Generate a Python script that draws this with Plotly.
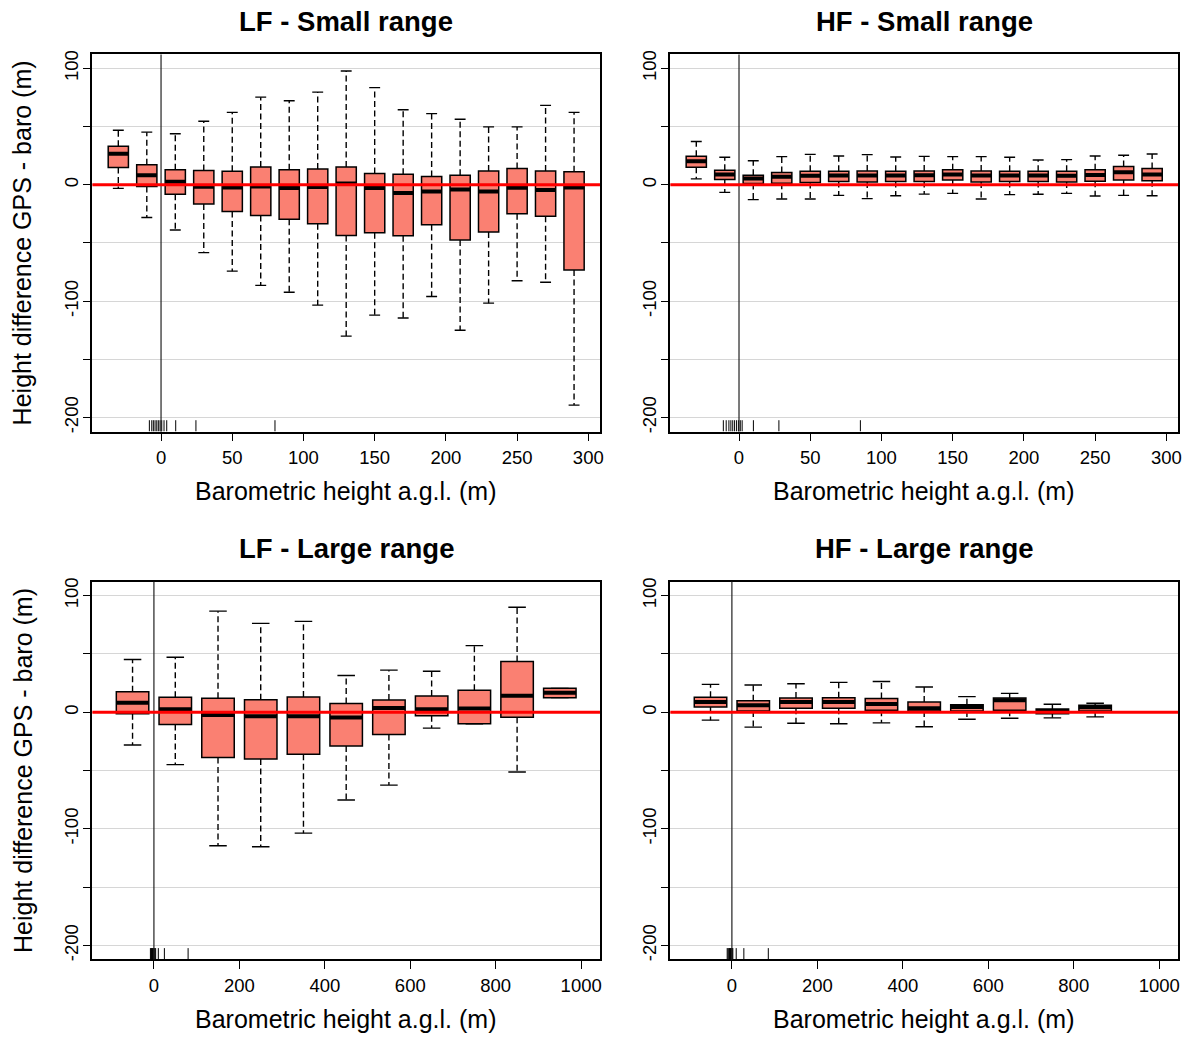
import plotly.graph_objects as go

# ---------------- data ----------------
small_x = [-30, -10, 10, 30, 50, 70, 90, 110, 130, 150, 170, 190, 210, 230, 250, 270, 290]
large_lf_x = [-50, 50, 150, 250, 350, 450, 550, 650, 750, 850, 950]
large_hf_x = [-50, 50, 150, 250, 350, 450, 550, 650, 750, 850]

lf_small_lo = [-3.1, -28.1, -38.9, -58.3, -74.2, -86.4, -92.4, -103.4, -130, -112, -114.5, -96, -125, -101.7, -82.4, -83.8, -189.3]
lf_small_q1 = [14.8, -1.4, -8.2, -16.5, -23, -26.4, -29.6, -33.5, -43.5, -41.2, -43.8, -34.4, -47.5, -40.6, -25, -27, -73.3]
lf_small_med = [26.7, 8.2, 2.6, -1.7, -2.3, -1.4, -2.8, -2, 1.0, -2.8, -7.1, -5.7, -4, -5.7, -2.6, -4.5, -2.3]
lf_small_q3 = [33.2, 17.3, 12.8, 12.2, 11.7, 15.3, 12.8, 13.6, 15.3, 9.7, 9.1, 7.1, 8.2, 11.9, 13.9, 11.9, 11.1]
lf_small_hi = [46.9, 45.2, 43.8, 54.6, 62.2, 75.3, 72.2, 79.6, 97.8, 83.5, 64.5, 61.1, 56.3, 49.7, 49.7, 68.2, 62.2]

hf_small_lo = [5.1, -6.5, -12.8, -12.2, -12.2, -9.1, -11.9, -9.4, -8, -7.4, -12.2, -8.5, -8.2, -7.4, -9.7, -9.1, -9.4]
hf_small_q1 = [15.1, 4.5, 1.1, 1.4, 2, 2.8, 2.3, 2.8, 2.8, 4, 2.3, 2.8, 2.8, 2.3, 3.1, 4, 3.4]
hf_small_med = [20.2, 8.8, 5.4, 6.8, 7.7, 8, 8, 8, 8.2, 8.8, 8, 8, 8, 7.7, 8.5, 10.8, 8.8]
hf_small_q3 = [24.4, 12.5, 8.2, 10.5, 11.7, 11.7, 11.9, 11.7, 11.9, 12.8, 11.9, 11.7, 11.7, 11.7, 12.8, 15.6, 13.9]
hf_small_hi = [37.2, 23.6, 20.7, 24.2, 26.1, 24.7, 25.9, 23.9, 24.4, 24.2, 24.2, 23.6, 21.3, 21.6, 24.7, 25.3, 26.4]

lf_large_lo = [-28.1, -44.9, -114.5, -115.4, -103.7, -75.3, -62.5, -13.6, -9.9, -51.2, 12.5]
lf_large_q1 = [-1.4, -10.5, -38.9, -40.1, -36.1, -29, -19, -3.1, -9.9, -4.3, 12.5]
lf_large_med = [8.2, 2.6, -2.3, -3.4, -3.4, -4.5, 3.7, 2.6, 3.1, 14.2, 16.8]
lf_large_q3 = [17.6, 12.8, 11.9, 10.8, 13.1, 7.4, 10.5, 13.9, 18.8, 43.5, 20.5]
lf_large_hi = [45.2, 47.2, 86.7, 76.2, 77.9, 31.5, 36.1, 35.2, 57.1, 90.1, 20.5]

hf_large_lo = [-6.8, -12.8, -9.4, -9.9, -9.1, -12.5, -6, -5.1, -4.8, -4]
hf_large_q1 = [4.5, 1.1, 3.4, 3.4, 1.7, 1.1, 1.1, 1.7, -1.4, 1.1]
hf_large_med = [8.8, 6.0, 8.8, 8.8, 7.1, 3.4, 4.5, 10.2, 1.1, 4.3]
hf_large_q3 = [12.8, 9.9, 12.2, 12.5, 11.7, 8.8, 6.5, 12.2, 2.8, 6]
hf_large_hi = [23.9, 23.3, 24.4, 25.6, 26.4, 21.6, 13.4, 16.2, 6.8, 7.7]

rug_lf = [-8.2, -6.5, -5.4, -4.2, -3, -1.9, -0.7, 0.5, 2.1, 4, 10.3, 24.5, 80]
rug_hf = [-11, -9, -7.1, -5.7, -4.4, -3.1, -1.7, -0.4, 0.9, 2.2, 10.1, 28, 85.2]

titles = ["LF - Small range", "HF - Small range", "LF - Large range", "HF - Large range"]
x_title = "Barometric height a.g.l. (m)"
y_title = "Height difference GPS - baro (m)"
small_ticks = [0, 50, 100, 150, 200, 250, 300]
large_ticks = [0, 200, 400, 600, 800, 1000]
y_ticks = [-200, -150, -100, -50, 0, 50, 100]
y_ticktext = ["-200", "", "-100", "", "0", "", "100"]

# ---------------- layout constants ----------------
W, H = 1195, 1039
FONT = "Liberation Sans, Arial, Helvetica, sans-serif"
SALMON = "#FA8072"
small_range = [-48.2, 308.2]
large_range = [-144, 1044]
y_range = [-212, 112]
col_px = [(92.7, 602.0), (672.6, 1182.0)]
row_px = [(50.7, 430.0), (581.0, 961.0)]

panels = [
    dict(x=small_x, lo=lf_small_lo, q1=lf_small_q1, med=lf_small_med, q3=lf_small_q3, hi=lf_small_hi,
         rug=rug_lf, w=14.2, xr=small_range, ticks=small_ticks, col=0, row=0),
    dict(x=small_x, lo=hf_small_lo, q1=hf_small_q1, med=hf_small_med, q3=hf_small_q3, hi=hf_small_hi,
         rug=rug_hf, w=14.2, xr=small_range, ticks=small_ticks, col=1, row=0),
    dict(x=large_lf_x, lo=lf_large_lo, q1=lf_large_q1, med=lf_large_med, q3=lf_large_q3, hi=lf_large_hi,
         rug=rug_lf, w=76, xr=large_range, ticks=large_ticks, col=0, row=1),
    dict(x=large_hf_x, lo=hf_large_lo, q1=hf_large_q1, med=hf_large_med, q3=hf_large_q3, hi=hf_large_hi,
         rug=rug_hf, w=76, xr=large_range, ticks=large_ticks, col=1, row=1),
]

fig = go.Figure()
layout = dict(
    width=W, height=H, margin=dict(l=0, r=0, t=0, b=0),
    paper_bgcolor="white", plot_bgcolor="white", showlegend=False,
    barmode="overlay", font=dict(family=FONT, color="black"),
    shapes=[], annotations=[],
)

for i, p in enumerate(panels):
    n = "" if i == 0 else str(i + 1)
    xa, ya = "x" + n, "y" + n
    xs = p["x"]
    w = p["w"]
    cw = w * 0.27
    # boxes
    fig.add_trace(go.Bar(
        x=xs, y=[b - a for a, b in zip(p["q1"], p["q3"])], base=p["q1"], width=w,
        marker=dict(color=SALMON, line=dict(color="black", width=1.5)),
        xaxis=xa, yaxis=ya, hoverinfo="skip"))
    # whiskers (dashed)
    wx, wy = [], []
    for x, lo, q1, q3, hi in zip(xs, p["lo"], p["q1"], p["q3"], p["hi"]):
        wx += [x, x, None, x, x, None]
        wy += [q3, hi, None, q1, lo, None]
    fig.add_trace(go.Scatter(x=wx, y=wy, mode="lines", xaxis=xa, yaxis=ya,
                             line=dict(color="black", width=1.4, dash="6px,3.5px"), hoverinfo="skip"))
    # staples
    sx, sy = [], []
    for x, lo, hi in zip(xs, p["lo"], p["hi"]):
        sx += [x - cw, x + cw, None, x - cw, x + cw, None]
        sy += [hi, hi, None, lo, lo, None]
    fig.add_trace(go.Scatter(x=sx, y=sy, mode="lines", xaxis=xa, yaxis=ya,
                             line=dict(color="black", width=1.4), hoverinfo="skip"))
    # medians
    mx, my = [], []
    for x, m in zip(xs, p["med"]):
        mx += [x - w / 2, x + w / 2, None]
        my += [m, m, None]
    fig.add_trace(go.Scatter(x=mx, y=my, mode="lines", xaxis=xa, yaxis=ya,
                             line=dict(color="black", width=4), hoverinfo="skip"))
    # rug
    rug_top = y_range[0] + 0.03 * (y_range[1] - y_range[0])
    rx, ry = [], []
    for r in p["rug"]:
        rx += [r, r, None]
        ry += [y_range[0], rug_top, None]
    fig.add_trace(go.Scatter(x=rx, y=ry, mode="lines", xaxis=xa, yaxis=ya,
                             line=dict(color="black", width=1), hoverinfo="skip"))

    x0p, x1p = col_px[p["col"]]
    y0p, y1p = row_px[p["row"]]
    layout["xaxis" + n] = dict(
        domain=[x0p / W, x1p / W], range=p["xr"], anchor=ya,
        tickmode="array", tickvals=p["ticks"], ticks="outside", ticklen=7.7, tickwidth=1.3,
        tickcolor="black", showgrid=False, zeroline=False,
        showline=True, mirror=True, linecolor="black", linewidth=1.8,
        tickfont=dict(family=FONT, size=18.5, color="black"), ticklabelstandoff=1,
        fixedrange=True)
    layout["yaxis" + n] = dict(
        domain=[1 - y1p / H, 1 - y0p / H], range=y_range, anchor=xa,
        tickmode="array", tickvals=y_ticks, ticktext=y_ticktext, tickangle=-90,
        ticks="outside", ticklen=7.7, tickwidth=1.3, tickcolor="black",
        showgrid=True, gridcolor="#d6d6d6", gridwidth=1.3, zeroline=False,
        showline=True, mirror=True, linecolor="black", linewidth=1.8,
        tickfont=dict(family=FONT, size=18.5, color="black"), ticklabelstandoff=-3,
        fixedrange=True)
    # reference lines
    layout["shapes"].append(dict(type="line", xref=xa, yref=ya + " domain", x0=0, x1=0, y0=0, y1=1,
                                 line=dict(color="#222222", width=1.2), layer="above"))
    layout["shapes"].append(dict(type="line", xref=xa + " domain", yref=ya, x0=0, x1=1, y0=0, y1=0,
                                 line=dict(color="#FF0000", width=3), layer="above"))
    cx = (x0p + x1p) / 2 / W
    # panel title
    layout["annotations"].append(dict(
        text="<b>" + titles[i] + "</b>", xref="paper", yref="paper", x=cx, y=1 - (y0p - 33.0) / H,
        xanchor="center", yanchor="middle", showarrow=False,
        font=dict(family=FONT, size=27.5, color="black")))
    # x title
    layout["annotations"].append(dict(
        text=x_title, xref="paper", yref="paper", x=cx, y=1 - (y1p + 60.0) / H,
        xanchor="center", yanchor="middle", showarrow=False,
        font=dict(family=FONT, size=25, color="black")))
    if p["col"] == 0:
        layout["annotations"].append(dict(
            text=y_title, xref="paper", yref="paper", x=22.5 / W, y=1 - (y0p + y1p) / 2 / H,
            xanchor="center", yanchor="middle", showarrow=False, textangle=-90,
            font=dict(family=FONT, size=25, color="black")))

fig.update_layout(**layout)
fig.write_html("out.html",
               config={"displayModeBar": False},
               post_script="document.body.style.margin='0';document.body.style.padding='0';"
                           "document.body.style.overflow='hidden';")
